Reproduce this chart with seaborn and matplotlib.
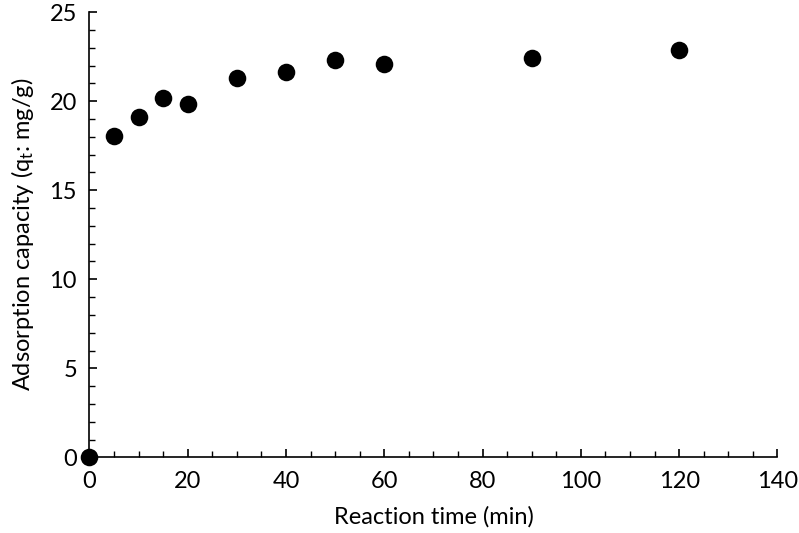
import matplotlib
matplotlib.use("Agg")
import matplotlib.pyplot as plt
import seaborn as sns
import pandas as pd
from matplotlib.ticker import MultipleLocator

time_min = [0, 5, 10, 15, 20, 30, 40, 50, 60, 90, 120]
capacity = [0.0, 18.04, 19.13, 20.17, 19.83, 21.32, 21.62, 22.34, 22.07, 22.43, 22.86]

sns.set_theme(style="white")
plt.rcParams['font.family'] = ['Lato', 'DejaVu Sans']
plt.rcParams['mathtext.fontset'] = 'custom'
plt.rcParams['mathtext.rm'] = 'Lato'
plt.rcParams['mathtext.it'] = 'Lato:italic'

df = pd.DataFrame({"time": time_min, "q": capacity})

fig = plt.figure(figsize=(7.99, 5.33), dpi=100)
ax = fig.add_axes([0.112, 0.142, 0.861, 0.835])
sns.scatterplot(data=df, x="time", y="q", ax=ax, color="black", s=160,
                edgecolor="black", linewidth=0, zorder=5, clip_on=False)

ax.set_xlim(0, 140)
ax.set_ylim(0, 25)
ax.xaxis.set_major_locator(MultipleLocator(20))
ax.xaxis.set_minor_locator(MultipleLocator(5))
ax.yaxis.set_major_locator(MultipleLocator(5))
ax.yaxis.set_minor_locator(MultipleLocator(1))
ax.tick_params(which="major", direction="in", length=6, width=1.2, color="black",
               labelsize=17, labelcolor="black")
ax.tick_params(axis="x", which="major", pad=10)
ax.tick_params(axis="y", which="major", pad=9)
ax.tick_params(which="minor", direction="in", length=4, width=1.0, color="black")
ax.tick_params(axis="x", which="both", bottom=True)
ax.tick_params(axis="y", which="both", left=True)

for side in ["top", "right"]:
    ax.spines[side].set_visible(False)
for side in ["left", "bottom"]:
    ax.spines[side].set_color("black")
    ax.spines[side].set_linewidth(1.2)

ax.set_xlabel("Reaction time (min)", fontsize=17, color="black", labelpad=10)
ax.set_ylabel(r"Adsorption capacity (q$_\mathrm{t}$: mg/g)", fontsize=17, color="black", labelpad=10)

fig.savefig("out.png", dpi=100)
